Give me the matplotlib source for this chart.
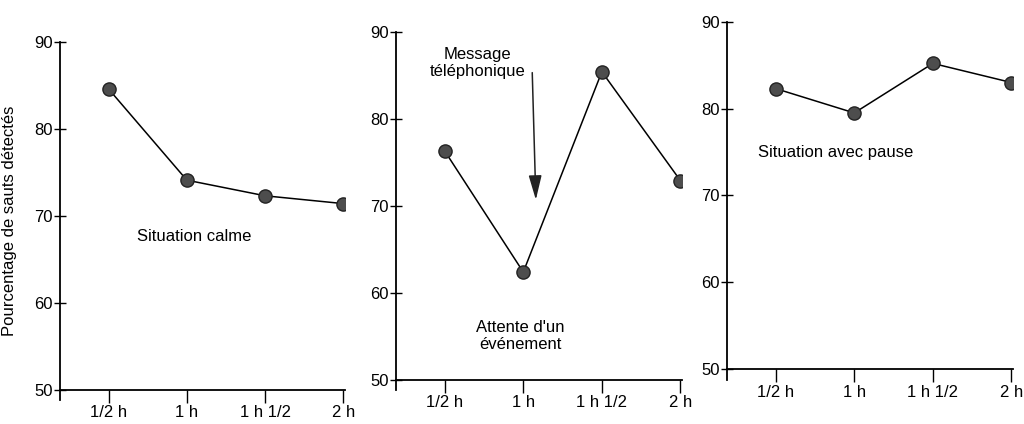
import matplotlib
matplotlib.use("Agg")
import matplotlib.pyplot as plt

plt.rcParams['font.family'] = ['Liberation Sans Narrow', 'Liberation Sans', 'DejaVu Sans']

# durations (hours) and tick labels shared by the three panels
hours = [0.5, 1.0, 1.5, 2.0]
hour_labels = ['1/2 h', '1 h', '1 h 1/2', '2 h']
y_ticks = [50, 60, 70, 80, 90]

# percentage of detected jumps per situation
calme = [84.6, 74.1, 72.3, 71.4]
attente = [76.3, 62.4, 85.4, 72.9]
pause = [82.3, 79.5, 85.2, 83.0]

W, H = 1024, 424
fig = plt.figure(figsize=(W / 100, H / 100), dpi=100)


def make_axes(left, top, bottom, width=286):
    # pixel box -> figure fraction
    return fig.add_axes([left / W, (H - bottom) / H, width / W, (bottom - top) / H])


def style(ax):
    ax.set_xlim(0.19, 2.01)
    ax.set_ylim(48.8, 90)
    ax.spines['top'].set_visible(False)
    ax.spines['right'].set_visible(False)
    ax.spines['bottom'].set_position(('data', 50))
    for s in ('left', 'bottom'):
        ax.spines[s].set_linewidth(1.3)
    ax.set_xticks(hours)
    ax.set_xticklabels(hour_labels)
    ax.set_yticks(y_ticks)
    ax.tick_params(axis='y', direction='inout', length=8, width=1, labelsize=12, pad=1)
    ax.tick_params(axis='x', direction='out', length=9, width=1, labelsize=12, pad=2)


def plot_series(ax, values):
    ax.plot(hours, values, color='black', lw=1.1, marker='o', ms=9.5,
            markerfacecolor='#4d4d4d', markeredgecolor='#222222', markeredgewidth=1)


ax1 = make_axes(60, 42, 400, 285)
style(ax1)
plot_series(ax1, calme)
ax1.text(1.05, 67.6, 'Situation calme', ha='center', va='center', fontsize=12)
ax1.set_ylabel('Pourcentage de sauts détectés', fontsize=12)
ax1.yaxis.set_label_coords(-0.15, 0.5)

ax2 = make_axes(396, 31.7, 390.5)
style(ax2)
plot_series(ax2, attente)
ax2.text(0.71, 86.4, 'Message\ntéléphonique', ha='center', va='center',
         fontsize=12, linespacing=1.1)
ax2.annotate('', xy=(1.08, 70.7), xytext=(1.057, 85.3),
             arrowprops=dict(arrowstyle='-|>,head_length=0.75,head_width=0.2',
                             color='#222222', lw=1.1, mutation_scale=20,
                             shrinkA=0, shrinkB=0))
ax2.text(0.98, 55.1, "Attente d'un\névénement", ha='center', va='center',
         fontsize=12, linespacing=1.15)

ax3 = make_axes(727, 21.7, 379.7)
style(ax3)
plot_series(ax3, pause)
ax3.text(0.39, 75.0, 'Situation avec pause', ha='left', va='center', fontsize=12)

fig.savefig('out.png', dpi=100, facecolor='white')
